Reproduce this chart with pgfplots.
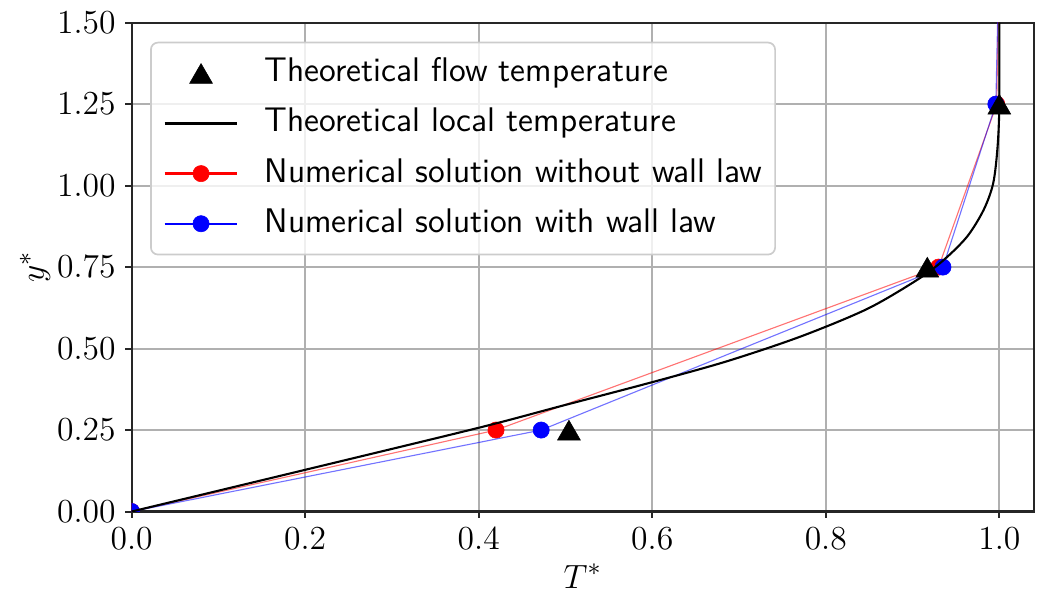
\documentclass[border=0pt]{standalone}
\usepackage{pgfplots}
\pgfplotsset{compat=1.18}
\usetikzlibrary{calc}
\definecolor{gridgray}{HTML}{B0B0B0}
\definecolor{spine}{HTML}{262626}
\pgfplotsset{
  markleg/.style={legend image code/.code={\draw[##1] plot coordinates {(13pt,0pt)};}},
  lineleg/.style={legend image code/.code={\draw[##1] (0pt,0pt) -- (26pt,0pt);}},
  linemarkleg/.style={legend image code/.code={%
    \draw[mark repeat=2,mark phase=2,##1] plot coordinates {(0pt,0pt) (13pt,0pt) (26pt,0pt)};}},
  tri/.style={mark=triangle*, mark size=4.7pt,
    mark options={fill=black, draw=black, line width=0.2pt, yshift=-1.2pt, opacity=1, fill opacity=1}},
  dot/.style={mark=*, mark size=2.9pt,
    mark options={fill=#1, draw=#1, line width=0.2pt, opacity=1, fill opacity=1}},
}

\begin{document}
\begin{tikzpicture}
\begin{axis}[
  scale only axis,
  width=322.3pt, height=174.6pt,
  xmin=0, xmax=1.04, ymin=0, ymax=1.5,
  xtick={0,0.2,0.4,0.6,0.8,1.0},
  ytick={0,0.25,0.5,0.75,1.0,1.25,1.5},
  xticklabel style={/pgf/number format/fixed, /pgf/number format/fixed zerofill,
                    /pgf/number format/precision=1},
  yticklabel style={/pgf/number format/fixed, /pgf/number format/fixed zerofill,
                    /pgf/number format/precision=2},
  ticklabel style={font=\fontsize{12}{14}\selectfont},
  xtick pos=bottom, ytick pos=left,
  tick align=outside, major tick length=2.2pt,
  tick style={spine, line width=0.7pt},
  axis line style={spine, line width=0.75pt},
  grid=major,
  major grid style={gridgray, line width=0.7pt},
  clip marker paths=true,
  xlabel={$T^*$}, ylabel={$y^*$},
  every axis x label/.style={at={(axis description cs:0.5,-0.132)}, anchor=center,
    font=\fontsize{12.5}{14}\selectfont},
  every axis y label/.style={at={(axis description cs:-0.107,0.5)}, rotate=90, anchor=center,
    font=\fontsize{12.5}{14}\selectfont},
  legend style={
    at={(axis description cs:0.0205,0.961)}, anchor=north west,
    draw=black!20, line width=0.6pt, rounded corners=2.5pt,
    fill=white, fill opacity=0.8, text opacity=1,
    inner xsep=4.5pt, inner ysep=5pt,
    row sep=5.9pt,
    font=\sffamily\fontsize{12.2}{14}\selectfont,
    nodes={inner sep=0pt, text height=9pt, text depth=3pt},
    /tikz/every odd column/.append style={column sep=9.3pt},
  },
  legend cell align=left,
]
% legend entries
\addlegendimage{black, only marks, tri, markleg}
\addlegendentry{Theoretical flow temperature}
\addlegendimage{black, line width=0.75pt, lineleg}
\addlegendentry{Theoretical local temperature}
\addlegendimage{red, line width=0.8pt, dot=red, linemarkleg}
\addlegendentry{Numerical solution without wall law}
\addlegendimage{blue, line width=0.8pt, dot=blue, linemarkleg}
\addlegendentry{Numerical solution with wall law}

% numerical solution without wall law
\addplot[red, opacity=0.55, line width=0.4pt, forget plot] coordinates {
  (0,0) (0.420,0.25) (0.930,0.75) (0.997,1.25) (1.0,1.75)};
\addplot[red, only marks, dot=red, forget plot] coordinates {
  (0,0) (0.420,0.25) (0.930,0.75) (0.997,1.25)};
% numerical solution with wall law
\addplot[blue, opacity=0.55, line width=0.4pt, forget plot] coordinates {
  (0,0) (0.472,0.25) (0.935,0.75) (0.996,1.25) (1.0,1.75)};
\addplot[blue, only marks, dot=blue, forget plot] coordinates {
  (0,0) (0.472,0.25) (0.935,0.75) (0.996,1.25)};
% theoretical local temperature
\addplot[black, line width=0.75pt, smooth, tension=0.5, forget plot] coordinates {
  (0,0) (0.2,0.128) (0.4,0.257) (0.494,0.323)
  (0.6,0.397) (0.686,0.461) (0.771,0.537) (0.848,0.622) (0.906,0.712)
  (0.936,0.772) (0.963,0.844) (0.982,0.926) (0.993,1.008) (0.998,1.12)
  (1.0,1.25) (1.0,1.5)};
% theoretical flow temperature
\addplot[black, only marks, tri, forget plot] coordinates {
  (0.504,0.25) (0.917,0.75) (1.0,1.25)};
\end{axis}
\path (current axis.south west) ++(-47pt,-28.7pt) rectangle ++(375pt,211.4pt);
\end{tikzpicture}
\end{document}
